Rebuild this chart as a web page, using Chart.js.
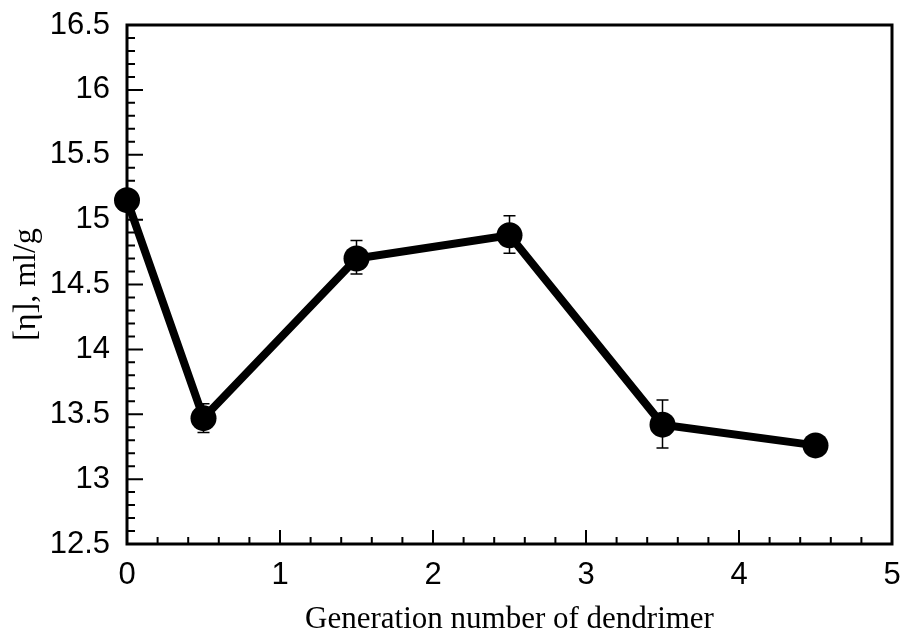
<!DOCTYPE html>
<html lang="en">
<head>
    <meta charset="UTF-8" />
    <title>Intrinsic viscosity vs dendrimer generation</title>
    <script src="https://cdn.jsdelivr.net/npm/chart.js"></script>
    <style>
        html, body {
            margin: 0;
            padding: 0;
            background: #fff;
        }
        canvas {
            display: block;
        }
    </style>
</head>
<body>
    <canvas id="etaChart" width="908" height="638"></canvas>

    <script>
        // data
        const generations = [0, 0.5, 1.5, 2.5, 3.5, 4.5];
        const etaValues = [15.15, 13.47, 14.70, 14.88, 13.42, 13.26];
        const errLow = [null, 13.36, 14.58, 14.74, 13.24, null];
        const errHigh = [null, 13.58, 14.84, 15.03, 13.61, null];

        const xMin = 0, xMax = 5, xMajor = 1, xMinor = 0.2;
        const yMin = 12.5, yMax = 16.5, yMajor = 0.5, yMinor = 0.1;

        // frame, inward ticks and error bars
        const framePlugin = {
            id: 'frame',
            beforeDatasetsDraw(chart) {
                const ctx = chart.ctx;
                const xs = chart.scales.x, ys = chart.scales.y;
                ctx.save();
                ctx.strokeStyle = '#000';
                ctx.lineWidth = 1.5;
                generations.forEach((g, i) => {
                    if (errLow[i] == null) return;
                    const x = xs.getPixelForValue(g);
                    const y1 = ys.getPixelForValue(errLow[i]);
                    const y2 = ys.getPixelForValue(errHigh[i]);
                    ctx.beginPath();
                    ctx.moveTo(x, y1); ctx.lineTo(x, y2);
                    ctx.moveTo(x - 6, y1); ctx.lineTo(x + 6, y1);
                    ctx.moveTo(x - 6, y2); ctx.lineTo(x + 6, y2);
                    ctx.stroke();
                });
                ctx.restore();
            },
            afterDraw(chart) {
                const ctx = chart.ctx;
                const a = chart.chartArea;
                const xs = chart.scales.x, ys = chart.scales.y;
                ctx.save();
                ctx.strokeStyle = '#000';
                ctx.lineWidth = 2;
                ctx.beginPath();
                const nx = Math.round((xMax - xMin) / xMinor);
                for (let i = 1; i < nx; i++) {
                    const v = xMin + i * xMinor;
                    const px = xs.getPixelForValue(v);
                    const len = (i % 5 === 0) ? 14 : 7;
                    ctx.moveTo(px, a.bottom); ctx.lineTo(px, a.bottom - len);
                }
                const ny = Math.round((yMax - yMin) / yMinor);
                for (let i = 1; i < ny; i++) {
                    const v = yMin + i * yMinor;
                    const py = ys.getPixelForValue(v);
                    const len = (i % 5 === 0) ? 16 : 8;
                    ctx.moveTo(a.left, py); ctx.lineTo(a.left + len, py);
                }
                ctx.stroke();
                ctx.lineWidth = 3;
                ctx.strokeRect(a.left, a.top, a.right - a.left, a.bottom - a.top);
                ctx.restore();
            }
        };

        const ctx = document.getElementById('etaChart').getContext('2d');
        new Chart(ctx, {
            type: 'scatter',
            data: {
                datasets: [{
                    data: generations.map((g, i) => ({ x: g, y: etaValues[i] })),
                    showLine: true,
                    borderColor: '#000',
                    borderWidth: 8,
                    backgroundColor: '#000',
                    pointBackgroundColor: '#000',
                    pointBorderColor: '#000',
                    pointRadius: 13,
                    pointBorderWidth: 0,
                    clip: false
                }]
            },
            options: {
                responsive: false,
                animation: false,
                layout: { padding: { left: 0, top: 25, right: 16, bottom: 0 } },
                plugins: {
                    legend: { display: false },
                    tooltip: { enabled: false }
                },
                scales: {
                    x: {
                        type: 'linear',
                        min: xMin,
                        max: xMax,
                        grid: { display: false, drawTicks: false },
                        border: { display: false },
                        ticks: {
                            stepSize: xMajor,
                            padding: 13,
                            color: '#000',
                            font: { family: 'Liberation Sans', size: 31 }
                        },
                        title: {
                            display: true,
                            text: 'Generation number of dendrimer',
                            color: '#000',
                            font: { family: 'Liberation Serif', size: 31 },
                            padding: { top: 0, bottom: 0 }
                        },
                        afterFit(scale) {
                            scale.height = 94;
                            scale.paddingLeft = 0;
                            scale.paddingRight = 0;
                        }
                    },
                    y: {
                        min: yMin,
                        max: yMax,
                        grid: { display: false, drawTicks: false },
                        border: { display: false },
                        ticks: {
                            stepSize: yMajor,
                            padding: 17,
                            color: '#000',
                            font: { family: 'Liberation Sans', size: 31 },
                            callback: v => String(v)
                        },
                        title: {
                            display: true,
                            text: '[η], ml/g',
                            color: '#000',
                            font: { family: 'Liberation Serif', size: 32 },
                            padding: { top: 7, bottom: 0 }
                        },
                        afterFit(scale) {
                            scale.width = 127;
                            scale.paddingTop = 0;
                            scale.paddingBottom = 0;
                        }
                    }
                }
            },
            plugins: [framePlugin]
        });
    </script>
</body>
</html>
